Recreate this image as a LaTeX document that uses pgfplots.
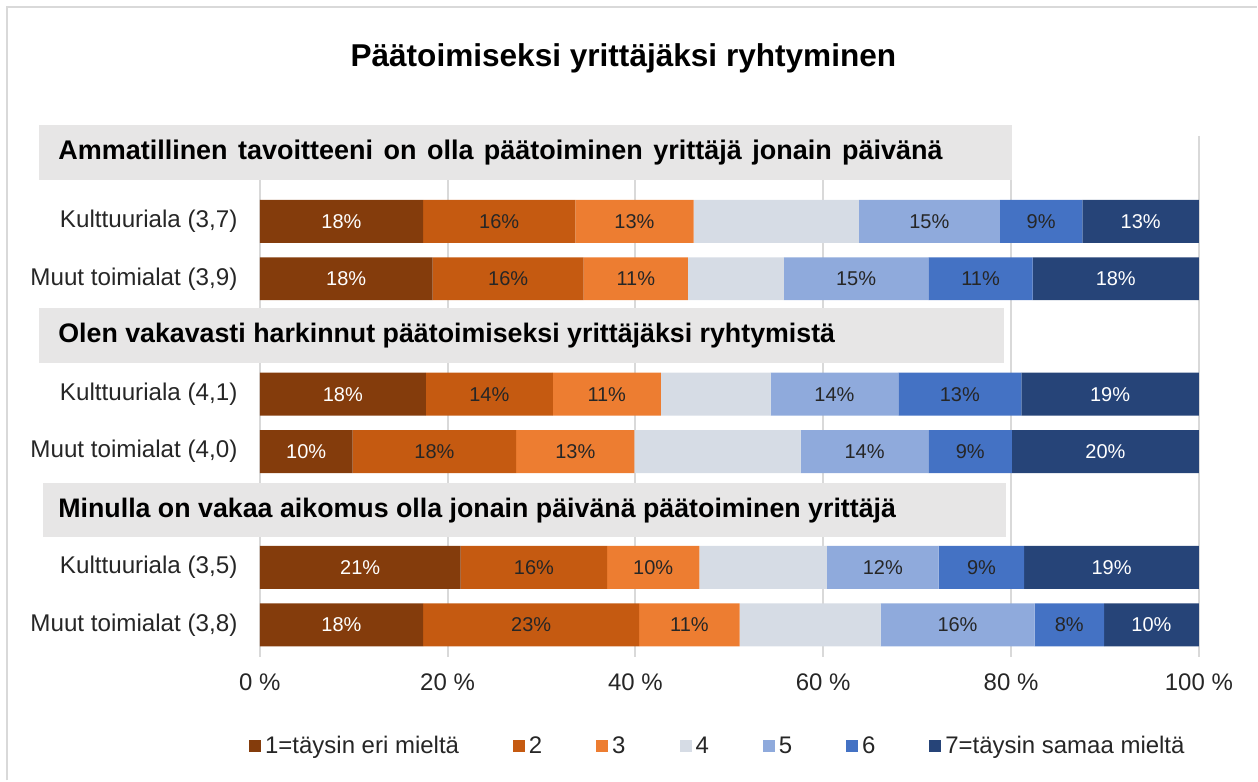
\documentclass[border=0pt]{standalone}
\usepackage{pgfplots}
\pgfplotsset{compat=1.18}
\usepackage{pgfplotstable}
\usepackage{fontspec}
\setmainfont{Liberation Sans}

\definecolor{c1}{HTML}{843C0C}
\definecolor{c2}{HTML}{C55A11}
\definecolor{c3}{HTML}{ED7D31}
\definecolor{c4}{HTML}{D6DCE5}
\definecolor{c5}{HTML}{8FAADC}
\definecolor{c6}{HTML}{4472C4}
\definecolor{c7}{HTML}{264478}
\definecolor{txt}{HTML}{262626}
\definecolor{gridc}{HTML}{D9D9D9}
\definecolor{hdr}{HTML}{E7E6E6}

% y = bar centre (pixel row of the reference), s1..s7 = shares (%), l* = printed labels
\pgfplotstableread{
y     s1   s2   s3   s4   s5   s6   s7   l1 l2 l3 l5 l6 l7
221.5 17.4 16.2 12.6 17.6 15.0 8.8  12.4 18 16 13 15 9  13
279.0 18.4 16.1 11.1 10.2 15.4 11.1 17.7 18 16 11 15 11 18
394.5 17.7 13.5 11.5 11.7 13.6 13.1 18.9 18 14 11 14 13 19
452.0 9.9  17.4 12.6 17.7 13.6 8.9  19.9 10 18 13 14 9  20
568.0 21.4 15.6 9.8  13.6 11.9 9.1  18.6 21 16 10 12 9  19
625.5 17.4 23.0 10.7 15.0 16.4 7.4  10.1 18 23 11 16 8  10
}\likert

\pgfplotsset{
  geom/.style={at={(365pt,-198.5pt)}, anchor=center,
    scale only axis, width=470pt, height=261pt,
    xmin=0, xmax=100, ymin=136, ymax=658, y dir=reverse,
    enlargelimits=false, clip=false},
  lab/.style={only marks, mark=none,
    nodes near coords={\pgfplotspointmeta\%},
    point meta=explicit symbolic,
    every node near coord/.append style={anchor=center, inner sep=0pt, text=#1,
      font=\fontsize{10}{12}\selectfont}},
}

\begin{document}
\begin{tikzpicture}
\begin{scope}[x=0.5pt,y=-0.5pt]
  \useasboundingbox (0,0) rectangle (1258,781);
\end{scope}
\begin{axis}[geom,
  xbar stacked, bar width=21.5pt,
  axis line style={draw=none}, tick style={draw=none},
  xmajorgrids, ymajorgrids=false,
  grid style={gridc, line width=1pt},
  xtick={0,20,40,60,80,100},
  xticklabels={0 \%,20 \%,40 \%,60 \%,80 \%,100 \%},
  xticklabel style={anchor=center, inner sep=0pt, yshift=-12.5pt, text=txt, font=\fontsize{12}{14}\selectfont},
  ytick={221.5,279,394.5,452,568,625.5},
  yticklabels={{Kulttuuriala (3,7)},{Muut toimialat (3,9)},{Kulttuuriala (4,1)},{Muut toimialat (4,0)},{Kulttuuriala (3,5)},{Muut toimialat (3,8)}},
  yticklabel style={anchor=east, inner sep=0pt, xshift=-11pt, text=txt, font=\fontsize{12.1}{14}\selectfont},
  legend columns=7,
  legend style={draw=none, fill=none, at={(-0.0117,-0.1705)}, anchor=west, inner sep=0pt,
    font=\fontsize{12}{14}\selectfont, text=txt,
    nodes={inner xsep=2pt, inner ysep=0pt},
    /tikz/every even column/.append style={column sep=25pt}},
  legend image code/.code={\fill[#1] (0pt,-3pt) rectangle (6pt,3pt);},
]
\addplot[fill=c1, draw=none] table[x=s1,y=y]{\likert};
\addlegendentry{1=täysin eri mieltä}
\addplot[fill=c2, draw=none] table[x=s2,y=y]{\likert};
\addlegendentry{2}
\addplot[fill=c3, draw=none] table[x=s3,y=y]{\likert};
\addlegendentry{3}
\addplot[fill=c4, draw=none] table[x=s4,y=y]{\likert};
\addlegendentry{4}
\addplot[fill=c5, draw=none] table[x=s5,y=y]{\likert};
\addlegendentry{5}
\addplot[fill=c6, draw=none] table[x=s6,y=y]{\likert};
\addlegendentry{6}
\addplot[fill=c7, draw=none] table[x=s7,y=y]{\likert};
\addlegendentry{7=täysin samaa mieltä}
\end{axis}
% labels centred in each segment (same geometry, no stacking)
\begin{axis}[geom, hide axis]
\addplot[lab=white] table[x expr=\thisrow{s1}/2, y=y, meta=l1]{\likert};
\addplot[lab=txt] table[x expr=\thisrow{s1}+\thisrow{s2}/2, y=y, meta=l2]{\likert};
\addplot[lab=txt] table[x expr=\thisrow{s1}+\thisrow{s2}+\thisrow{s3}/2, y=y, meta=l3]{\likert};
\addplot[lab=txt] table[x expr=\thisrow{s1}+\thisrow{s2}+\thisrow{s3}+\thisrow{s4}+\thisrow{s5}/2, y=y, meta=l5]{\likert};
\addplot[lab=txt] table[x expr=\thisrow{s1}+\thisrow{s2}+\thisrow{s3}+\thisrow{s4}+\thisrow{s5}+\thisrow{s6}/2, y=y, meta=l6]{\likert};
\addplot[lab=white] table[x expr=100-\thisrow{s7}/2, y=y, meta=l7]{\likert};
\end{axis}
\begin{scope}[x=0.5pt,y=-0.5pt]
  \draw[gridc, line width=1.2pt] (7,781) -- (7,7) -- (1258,7);
  \node[font=\bfseries\fontsize{15.8}{18}\selectfont, text=black] at (624,58) {Päätoimiseksi yrittäjäksi ryhtyminen};
  \fill[hdr] (39,125) rectangle (1013,180);
  \fill[hdr] (39,308) rectangle (1005,363);
  \fill[hdr] (43,483) rectangle (1007,538);
  \node[anchor=west, inner sep=0pt, font=\bfseries\fontsize{13.5}{16}\selectfont, text=black] at (58,153) {\spaceskip=\dimexpr\fontdimen2\font+1.5pt\relax Ammatillinen tavoitteeni on olla päätoiminen yrittäjä jonain päivänä};
  \node[anchor=west, inner sep=0pt, font=\bfseries\fontsize{13.4}{16}\selectfont, text=black] at (58,336) {Olen vakavasti harkinnut päätoimiseksi yrittäjäksi ryhtymistä};
  \node[anchor=west, inner sep=0pt, font=\bfseries\fontsize{13.4}{16}\selectfont, text=black] at (58,511) {Minulla on vakaa aikomus olla jonain päivänä päätoiminen yrittäjä};
\end{scope}
\end{tikzpicture}
\end{document}
